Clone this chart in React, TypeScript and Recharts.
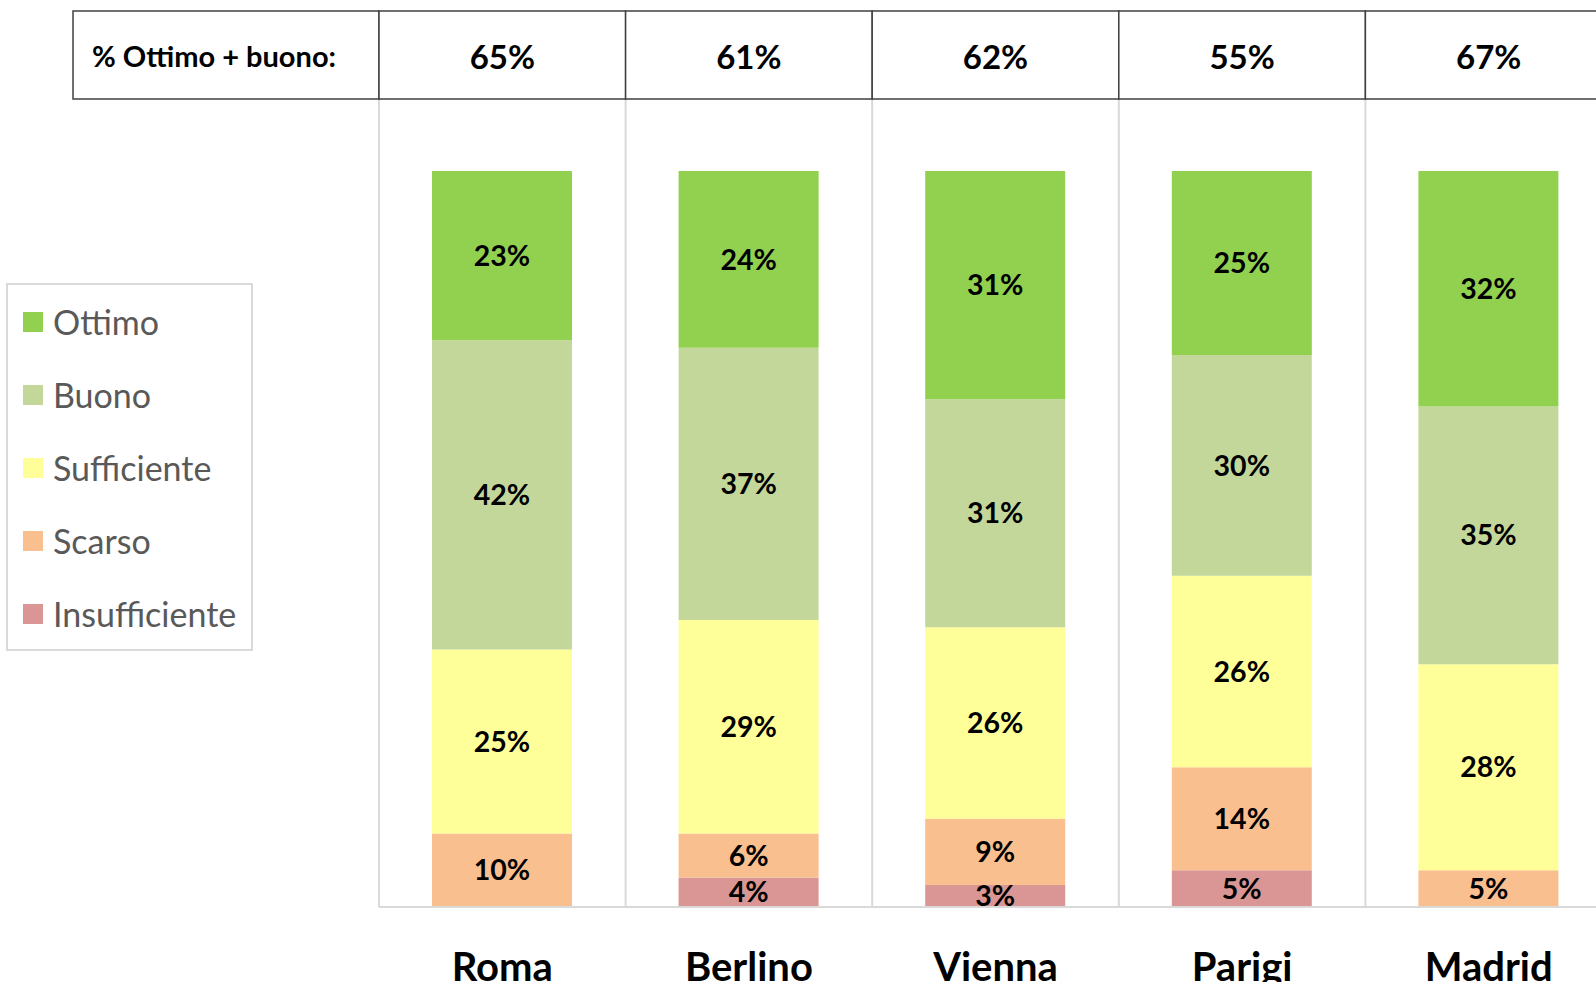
import { BarChart, Bar, XAxis, YAxis, CartesianGrid, Legend, LabelList } from "recharts";

const cities = ["Roma", "Berlino", "Vienna", "Parigi", "Madrid"];
const ottimo = [23, 24, 31, 25, 32];
const buono = [42, 37, 31, 30, 35];
const sufficiente = [25, 29, 26, 26, 28];
const scarso = [10, 6, 9, 14, 5];
const insufficiente = [0, 4, 3, 5, 0];
const ottimoPiuBuono = [65, 61, 62, 55, 67];
const tableTitle = "% Ottimo + buono:";

// stacking order: bottom first
const series = [
  { key: "insufficiente", name: "Insufficiente", color: "#DA9694" },
  { key: "scarso", name: "Scarso", color: "#FABF8F" },
  { key: "sufficiente", name: "Sufficiente", color: "#FFFF99" },
  { key: "buono", name: "Buono", color: "#C4D79B" },
  { key: "ottimo", name: "Ottimo", color: "#92D050" },
];

const data = cities.map((city, i) => ({
  city,
  ottimo: ottimo[i],
  buono: buono[i],
  sufficiente: sufficiente[i],
  scarso: scarso[i],
  insufficiente: insufficiente[i],
  total: ottimoPiuBuono[i],
}));

const FONT = "Lato, 'Open Sans', sans-serif";
const LINE = "#404040";

function TableTick(props: any) {
  const { x, y, index, height, width } = props;
  const band = (width || 1233) / cities.length;
  const top = y - height;
  const left = x - band / 2;
  return (
    <g>
      {index === 0 && (
        <g>
          <rect x={left - 306} y={top} width={306} height={height} fill="#fff" stroke={LINE} strokeWidth={1.5} />
          <text
            x={left - 287}
            y={top + height / 2}
            textAnchor="start"
            dominantBaseline="central"
            fontFamily={FONT}
            fontWeight={700}
            fontSize={29}
            fill="#000"
          >
            {tableTitle}
          </text>
        </g>
      )}
      <rect x={left} y={top} width={band} height={height} fill="#fff" stroke={LINE} strokeWidth={1.5} />
      <text
        x={x}
        y={top + height / 2 + 1}
        textAnchor="middle"
        dominantBaseline="central"
        fontFamily={FONT}
        fontWeight={700}
        fontSize={33}
        fill="#000"
      >
        {ottimoPiuBuono[index]}%
      </text>
    </g>
  );
}

function LegendBox() {
  const items = [...series].reverse();
  return (
    <div
      style={{
        width: 243,
        height: 364,
        border: "2px solid #d9d9d9",
        background: "#fff",
        boxSizing: "content-box",
        fontFamily: FONT,
      }}
    >
      {items.map((s) => (
        <div key={s.key} style={{ display: "flex", alignItems: "center", height: 73, paddingLeft: 15 }}>
          <span style={{ width: 20, height: 20, background: s.color, display: "inline-block", marginRight: 10 }} />
          <span style={{ fontSize: 34, color: "#595959" }}>{s.name}</span>
        </div>
      ))}
    </div>
  );
}

export default function App() {
  return (
    <div style={{ position: "absolute", left: 0, top: 0, width: 1596, height: 982, overflow: "hidden", background: "#fff" }}>
      <BarChart
        width={1620}
        height={982}
        data={data}
        margin={{ top: 11, right: 8, left: 379, bottom: 0 }}
        barSize={140}
      >
        <CartesianGrid
          horizontal={false}
          stroke="#d9d9d9"
          strokeWidth={2}
          verticalCoordinatesGenerator={({ offset }: any) =>
            Array.from({ length: cities.length + 1 }, (_, i) => offset.left + (i * offset.width) / cities.length)
          }
        />
        <XAxis
          xAxisId="top"
          orientation="top"
          dataKey="city"
          height={88}
          axisLine={false}
          tickLine={false}
          tickSize={0}
          tickMargin={0}
          tick={<TableTick />}
          interval={0}
        />
        <XAxis
          dataKey="city"
          height={75}
          axisLine={{ stroke: "#d9d9d9", strokeWidth: 2 }}
          tickLine={false}
          tickMargin={40}
          interval={0}
          tick={{ fill: "#000", fontSize: 40, fontWeight: 700, fontFamily: FONT }}
        />
        <YAxis hide domain={[0, 109.8]} />
        <Legend
          layout="vertical"
          align="center"
          verticalAlign="middle"
          wrapperStyle={{ left: 6, top: 283, width: 247 }}
          content={() => <LegendBox />}
        />
        {series.map((s) => (
          <Bar key={s.key} dataKey={s.key} name={s.name} stackId="a" fill={s.color} isAnimationActive={false}>
            <LabelList
              dataKey={s.key}
              position="center"
              formatter={(v: any) => (v ? `${v}%` : "")}
              style={{ fill: "#000", fontSize: 28.5, fontWeight: 700, fontFamily: FONT }}
            />
          </Bar>
        ))}
      </BarChart>
    </div>
  );
}
